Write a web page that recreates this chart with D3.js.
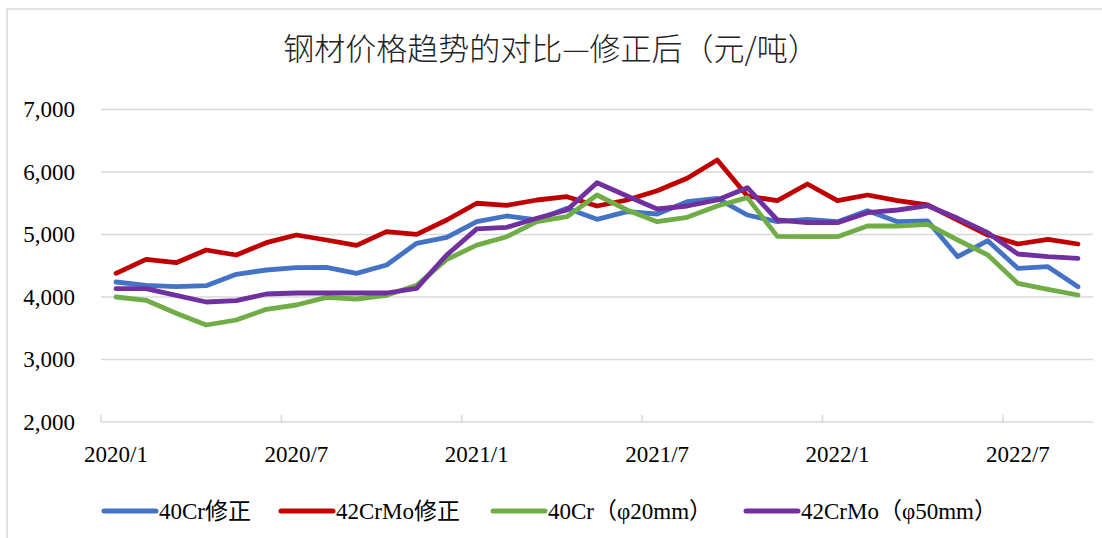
<!DOCTYPE html>
<html>
<head>
<meta charset="utf-8">
<script src="https://cdn.jsdelivr.net/npm/d3@7/dist/d3.min.js"></script>
<style>
  html, body { margin: 0; padding: 0; background: #fff; }
  svg { display: block; }
</style>
</head>
<body>
<svg width="1102" height="538"></svg>
<script>
// months 2020/1 .. 2022/9
const months = [];
for (let y = 2020; y <= 2022; y++) {
  for (let m = 1; m <= 12; m++) {
    if (y === 2022 && m > 9) break;
    months.push(y + "/" + m);
  }
}
const tickLabels = ["2020/1", "2020/7", "2021/1", "2021/7", "2022/1", "2022/7"];
const yTicks = [2000, 3000, 4000, 5000, 6000, 7000];

const names = ["40Cr修正", "42CrMo修正", "40Cr（φ20mm）", "42CrMo（φ50mm）"];
const colors = ["#4472c4", "#c00000", "#70ad47", "#7030a0"];

const cr40fix = [4240, 4187, 4165, 4181, 4363, 4432, 4469, 4475, 4379, 4512, 4859, 4955,
  5205, 5296, 5232, 5419, 5243, 5365, 5328, 5525, 5579, 5312, 5205,
  5243, 5205, 5381, 5205, 5216, 4645, 4901, 4459, 4485, 4165];
const crmo42fix = [4379, 4603, 4549, 4752, 4672, 4869, 4992, 4912, 4827, 5045, 5003, 5232,
  5500, 5467, 5552, 5605, 5456, 5552, 5701, 5899, 6192, 5616, 5541,
  5808, 5541, 5632, 5541, 5472, 5232, 4992, 4848, 4923, 4848];
const cr40d20 = [4000, 3947, 3739, 3552, 3632, 3803, 3872, 3995, 3968, 4027, 4187, 4600,
  4830, 4965, 5205, 5285, 5632, 5392, 5205, 5275, 5456, 5590, 4970,
  4965, 4965, 5136, 5136, 5163, 4912, 4672, 4219, 4123, 4032];
const crmo42d50 = [4133, 4133, 4027, 3920, 3941, 4048, 4064, 4064, 4064, 4064, 4139, 4672,
  5090, 5115, 5259, 5392, 5829, 5616, 5408, 5456, 5552, 5749, 5232,
  5189, 5189, 5349, 5392, 5461, 5259, 5029, 4688, 4645, 4619];

const series = [cr40fix, crmo42fix, cr40d20, crmo42d50];

const svg = d3.select("svg");
const plot = {left: 101, right: 1093, top: 109.5, bottom: 422};

// outer chart border (only top/left visible)
svg.append("rect")
  .attr("x", 7).attr("y", 9)
  .attr("width", 1200).attr("height", 700)
  .attr("fill", "none")
  .attr("stroke", "#d9d9d9")
  .attr("stroke-width", 1.5);

// title
svg.append("text")
  .attr("x", 551).attr("y", 60)
  .attr("text-anchor", "middle")
  .style("font-family", "'Noto Sans CJK SC', sans-serif")
  .style("font-size", "31px")
  .style("font-weight", 300)
  .attr("fill", "#222")
  .text("钢材价格趋势的对比—修正后（元/吨）");

const x = d3.scaleBand().domain(months).range([plot.left, plot.right]);
const y = d3.scaleLinear().domain([2000, 7000]).range([plot.bottom, plot.top]);

// gridlines
svg.append("g")
  .selectAll("line")
  .data(yTicks.slice(1))
  .enter()
  .append("line")
    .attr("x1", plot.left).attr("x2", plot.right)
    .attr("y1", d => y(d)).attr("y2", d => y(d))
    .attr("stroke", "#d9d9d9")
    .attr("stroke-width", 1.5);

// y axis labels
const yAxis = d3.axisLeft(y).tickValues(yTicks).tickFormat(d3.format(",")).tickSize(0).tickPadding(26);
svg.append("g")
  .attr("transform", "translate(" + plot.left + ",0)")
  .call(yAxis)
  .call(g => g.select(".domain").remove())
  .selectAll("text")
    .style("font-family", "'Liberation Serif', 'Times New Roman', serif")
    .style("font-size", "23px")
    .attr("fill", "#000");

// x axis: line, inside ticks at category boundaries every 6 months
const xg = svg.append("g");
xg.append("line")
  .attr("x1", plot.left).attr("x2", plot.right)
  .attr("y1", plot.bottom).attr("y2", plot.bottom)
  .attr("stroke", "#d9d9d9").attr("stroke-width", 1.5);
xg.selectAll("line.tick")
  .data(tickLabels)
  .enter()
  .append("line")
    .attr("class", "tick")
    .attr("x1", d => x(d)).attr("x2", d => x(d))
    .attr("y1", plot.bottom).attr("y2", plot.bottom - 7)
    .attr("stroke", "#d9d9d9").attr("stroke-width", 1.5);
xg.selectAll("text")
  .data(tickLabels)
  .enter()
  .append("text")
    .attr("x", d => x(d) + x.bandwidth() / 2)
    .attr("y", 462)
    .attr("text-anchor", "middle")
    .style("font-family", "'Liberation Serif', 'Times New Roman', serif")
    .style("font-size", "23px")
    .attr("fill", "#000")
    .text(d => d);

// lines
const line = d3.line()
  .x((d, i) => x(months[i]) + x.bandwidth() / 2)
  .y(d => y(d));

svg.append("g")
  .selectAll("path")
  .data(series)
  .enter()
  .append("path")
    .attr("d", d => line(d))
    .attr("fill", "none")
    .attr("stroke", (d, i) => colors[i])
    .attr("stroke-width", 4.8)
    .attr("stroke-linejoin", "round")
    .attr("stroke-linecap", "round");

// legend
const legendX = [102, 279, 491, 744];
const lg = svg.append("g");
names.forEach((n, i) => {
  lg.append("line")
    .attr("x1", legendX[i] + 2).attr("x2", legendX[i] + 54)
    .attr("y1", 511).attr("y2", 511)
    .attr("stroke", colors[i])
    .attr("stroke-width", 5)
    .attr("stroke-linecap", "round");
  lg.append("text")
    .attr("x", legendX[i] + 57)
    .attr("y", 519)
    .style("font-family", "'Liberation Serif', 'Noto Sans CJK SC', serif")
    .style("font-size", "23px")
    .attr("fill", "#000")
    .text(n);
});
</script>
</body>
</html>
